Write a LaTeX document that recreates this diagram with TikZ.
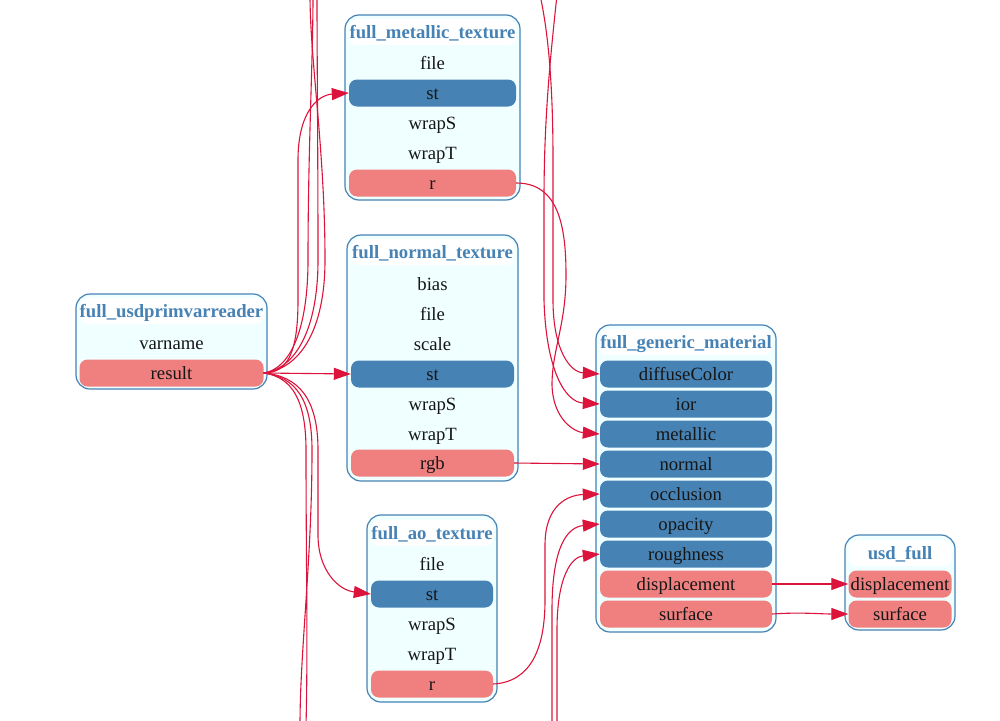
\documentclass[tikz,border=0pt]{standalone}
\usepackage{fontspec}
\setmainfont{Liberation Serif}
\usetikzlibrary{arrows.meta}
\definecolor{steel}{HTML}{4682B4}
\definecolor{coral}{HTML}{F08080}
\definecolor{azurebg}{HTML}{F0FFFF}
\definecolor{crim}{HTML}{DC143C}
\definecolor{ink}{HTML}{161616}
\begin{document}
\begin{tikzpicture}[x=1pt,y=-1pt,
 box/.style={draw=steel,fill=azurebg,rounded corners=14pt,line width=1.2pt,inner sep=0pt},
 ttl/.style={fill=white,rounded corners=8pt,text=steel,font=\bfseries\fontsize{18.7}{20}\selectfont,inner sep=0pt,minimum height=26pt,text height=16pt,text depth=4pt},
 lbl/.style={text=ink,font=\fontsize{18.7}{20}\selectfont,inner sep=0pt,minimum height=27pt,text height=16pt,text depth=4pt},
 inp/.style={lbl,fill=steel,rounded corners=8pt},
 outp/.style={lbl,fill=coral,rounded corners=8pt},
 wire/.style={draw=crim,line width=1.1pt},
 link/.style={wire,-{Triangle[length=17pt,width=12pt]}},
]
\useasboundingbox[fill=white] (0,0) rectangle (1000,720);

% full_metallic_texture
\node[box,minimum width=175pt,minimum height=185pt] (mt) at (432.5,107.5) {};
\begin{scope}[every node/.append style={minimum width=167pt}]
\node[ttl] (mt-t) at (432.5,32) {full\_metallic\_texture};
\node[lbl] (mt-file) at (432.5,63) {file};
\node[inp] (mt-st) at (432.5,93) {st};
\node[lbl] (mt-wrapS) at (432.5,123) {wrapS};
\node[lbl] (mt-wrapT) at (432.5,153) {wrapT};
\node[outp] (mt-r) at (432.5,183) {r};
\end{scope}

% full_normal_texture
\node[box,minimum width=171pt,minimum height=246pt] (nt) at (432.5,358) {};
\begin{scope}[every node/.append style={minimum width=163pt}]
\node[ttl] (nt-t) at (432.5,252) {full\_normal\_texture};
\node[lbl] (nt-bias) at (432.5,284) {bias};
\node[lbl] (nt-file) at (432.5,314) {file};
\node[lbl] (nt-scale) at (432.5,344) {scale};
\node[inp] (nt-st) at (432.5,374) {st};
\node[lbl] (nt-wrapS) at (432.5,404) {wrapS};
\node[lbl] (nt-wrapT) at (432.5,434) {wrapT};
\node[outp] (nt-rgb) at (432.5,463) {rgb};
\end{scope}

% full_ao_texture
\node[box,minimum width=130pt,minimum height=187pt] (ao) at (432,608.5) {};
\begin{scope}[every node/.append style={minimum width=122pt}]
\node[ttl] (ao-t) at (432,533) {full\_ao\_texture};
\node[lbl] (ao-file) at (432,564) {file};
\node[inp] (ao-st) at (432,594) {st};
\node[lbl] (ao-wrapS) at (432,624) {wrapS};
\node[lbl] (ao-wrapT) at (432,654) {wrapT};
\node[outp] (ao-r) at (432,684) {r};
\end{scope}

% full_usdprimvarreader
\node[box,minimum width=191pt,minimum height=95pt] (pr) at (171.5,341.5) {};
\begin{scope}[every node/.append style={minimum width=184pt}]
\node[ttl] (pr-t) at (171.5,311) {full\_usdprimvarreader};
\node[lbl] (pr-varname) at (171.5,343) {varname};
\node[outp] (pr-result) at (171.5,373) {result};
\end{scope}

% full_generic_material
\node[box,minimum width=180pt,minimum height=307pt] (gm) at (686,478.5) {};
\begin{scope}[every node/.append style={minimum width=172pt}]
\node[ttl] (gm-t) at (686,342) {full\_generic\_material};
\node[inp] (gm-diffuse) at (686,374) {diffuseColor};
\node[inp] (gm-ior) at (686,404) {ior};
\node[inp] (gm-metallic) at (686,434) {metallic};
\node[inp] (gm-normal) at (686,464) {normal};
\node[inp] (gm-occlusion) at (686,494) {occlusion};
\node[inp] (gm-opacity) at (686,524) {opacity};
\node[inp] (gm-roughness) at (686,554) {roughness};
\node[outp] (gm-disp) at (686,584) {displacement};
\node[outp] (gm-surf) at (686,614) {surface};
\end{scope}

% usd_full
\node[box,minimum width=110pt,minimum height=95pt] (uf) at (900,582.5) {};
\begin{scope}[every node/.append style={minimum width=103pt}]
\node[ttl] (uf-t) at (900,553) {usd\_full};
\node[outp] (uf-disp) at (900,584) {displacement};
\node[outp] (uf-surf) at (900,614) {surface};
\end{scope}

% free ends off the page
\coordinate (offT1) at (310,-5);
\coordinate (offT2) at (317,-5);
\coordinate (offT3) at (313,-5);
\coordinate (offB1) at (300,725);
\coordinate (offB2) at (306,725);
\coordinate (offR1) at (540,-5);
\coordinate (offR2) at (557,-5);
\coordinate (offR3) at (552,725);
\coordinate (offR4) at (557,725);

% edges from result
\draw[link] (pr-result.east) .. controls (288,373) and (298,352) .. (298,300) -- (298,160) .. controls (298,112) and (318,95) .. (mt-st.west);
\draw[link] (pr-result.east) -- (nt-st.west);
\draw[link] (pr-result.east) .. controls (298,376) and (318,398) .. (318,450) -- (318,535) .. controls (318,570) and (338,590) .. (ao-st.west);
\draw[wire] (pr-result.east) .. controls (296,377) and (312,400) .. (312,450) .. controls (312,560) and (300,650) .. (offB1);
\draw[wire] (pr-result.east) .. controls (292,377) and (306,400) .. (306,450) .. controls (306,560) and (308,650) .. (offB2);
\draw[wire] (pr-result.east) .. controls (300,369) and (325,330) .. (325,260) .. controls (325,150) and (310,60) .. (offT1);
\draw[wire] (pr-result.east) .. controls (295,369) and (318,330) .. (318,260) .. controls (318,150) and (317,60) .. (offT2);
\draw[wire] (pr-result.east) .. controls (290,369) and (308,330) .. (308,260) .. controls (308,150) and (313,60) .. (offT3);

% edges into generic material
\draw[link] (offR1) .. controls (550,40) and (553,100) .. (553,160) -- (553,300) .. controls (553,350) and (570,372) .. (gm-diffuse.west);
\draw[link] (offR2) .. controls (550,60) and (544,120) .. (544,200) -- (544,300) .. controls (546,370) and (565,402) .. (gm-ior.west);
\draw[link] (mt-r.east) .. controls (558,183) and (566,225) .. (566,275) .. controls (566,325) and (552,350) .. (552,385) .. controls (553,420) and (575,432) .. (gm-metallic.west);
\draw[link] (nt-rgb.east) -- (gm-normal.west);
\draw[link] (ao-r.east) .. controls (530,682) and (545,650) .. (545,600) -- (545,545) .. controls (545,505) and (568,495) .. (gm-occlusion.west);
\draw[link] (offR3) -- (552,610) .. controls (552,545) and (568,527) .. (gm-opacity.west);
\draw[link] (offR4) -- (557,630) .. controls (557,575) and (572,557) .. (gm-roughness.west);

% edges into usd_full
\draw[link] (gm-disp.east) -- (uf-disp.west);
\draw[link] (gm-surf.east) .. controls (800,612) and (820,614) .. (uf-surf.west);
\end{tikzpicture}
\end{document}
